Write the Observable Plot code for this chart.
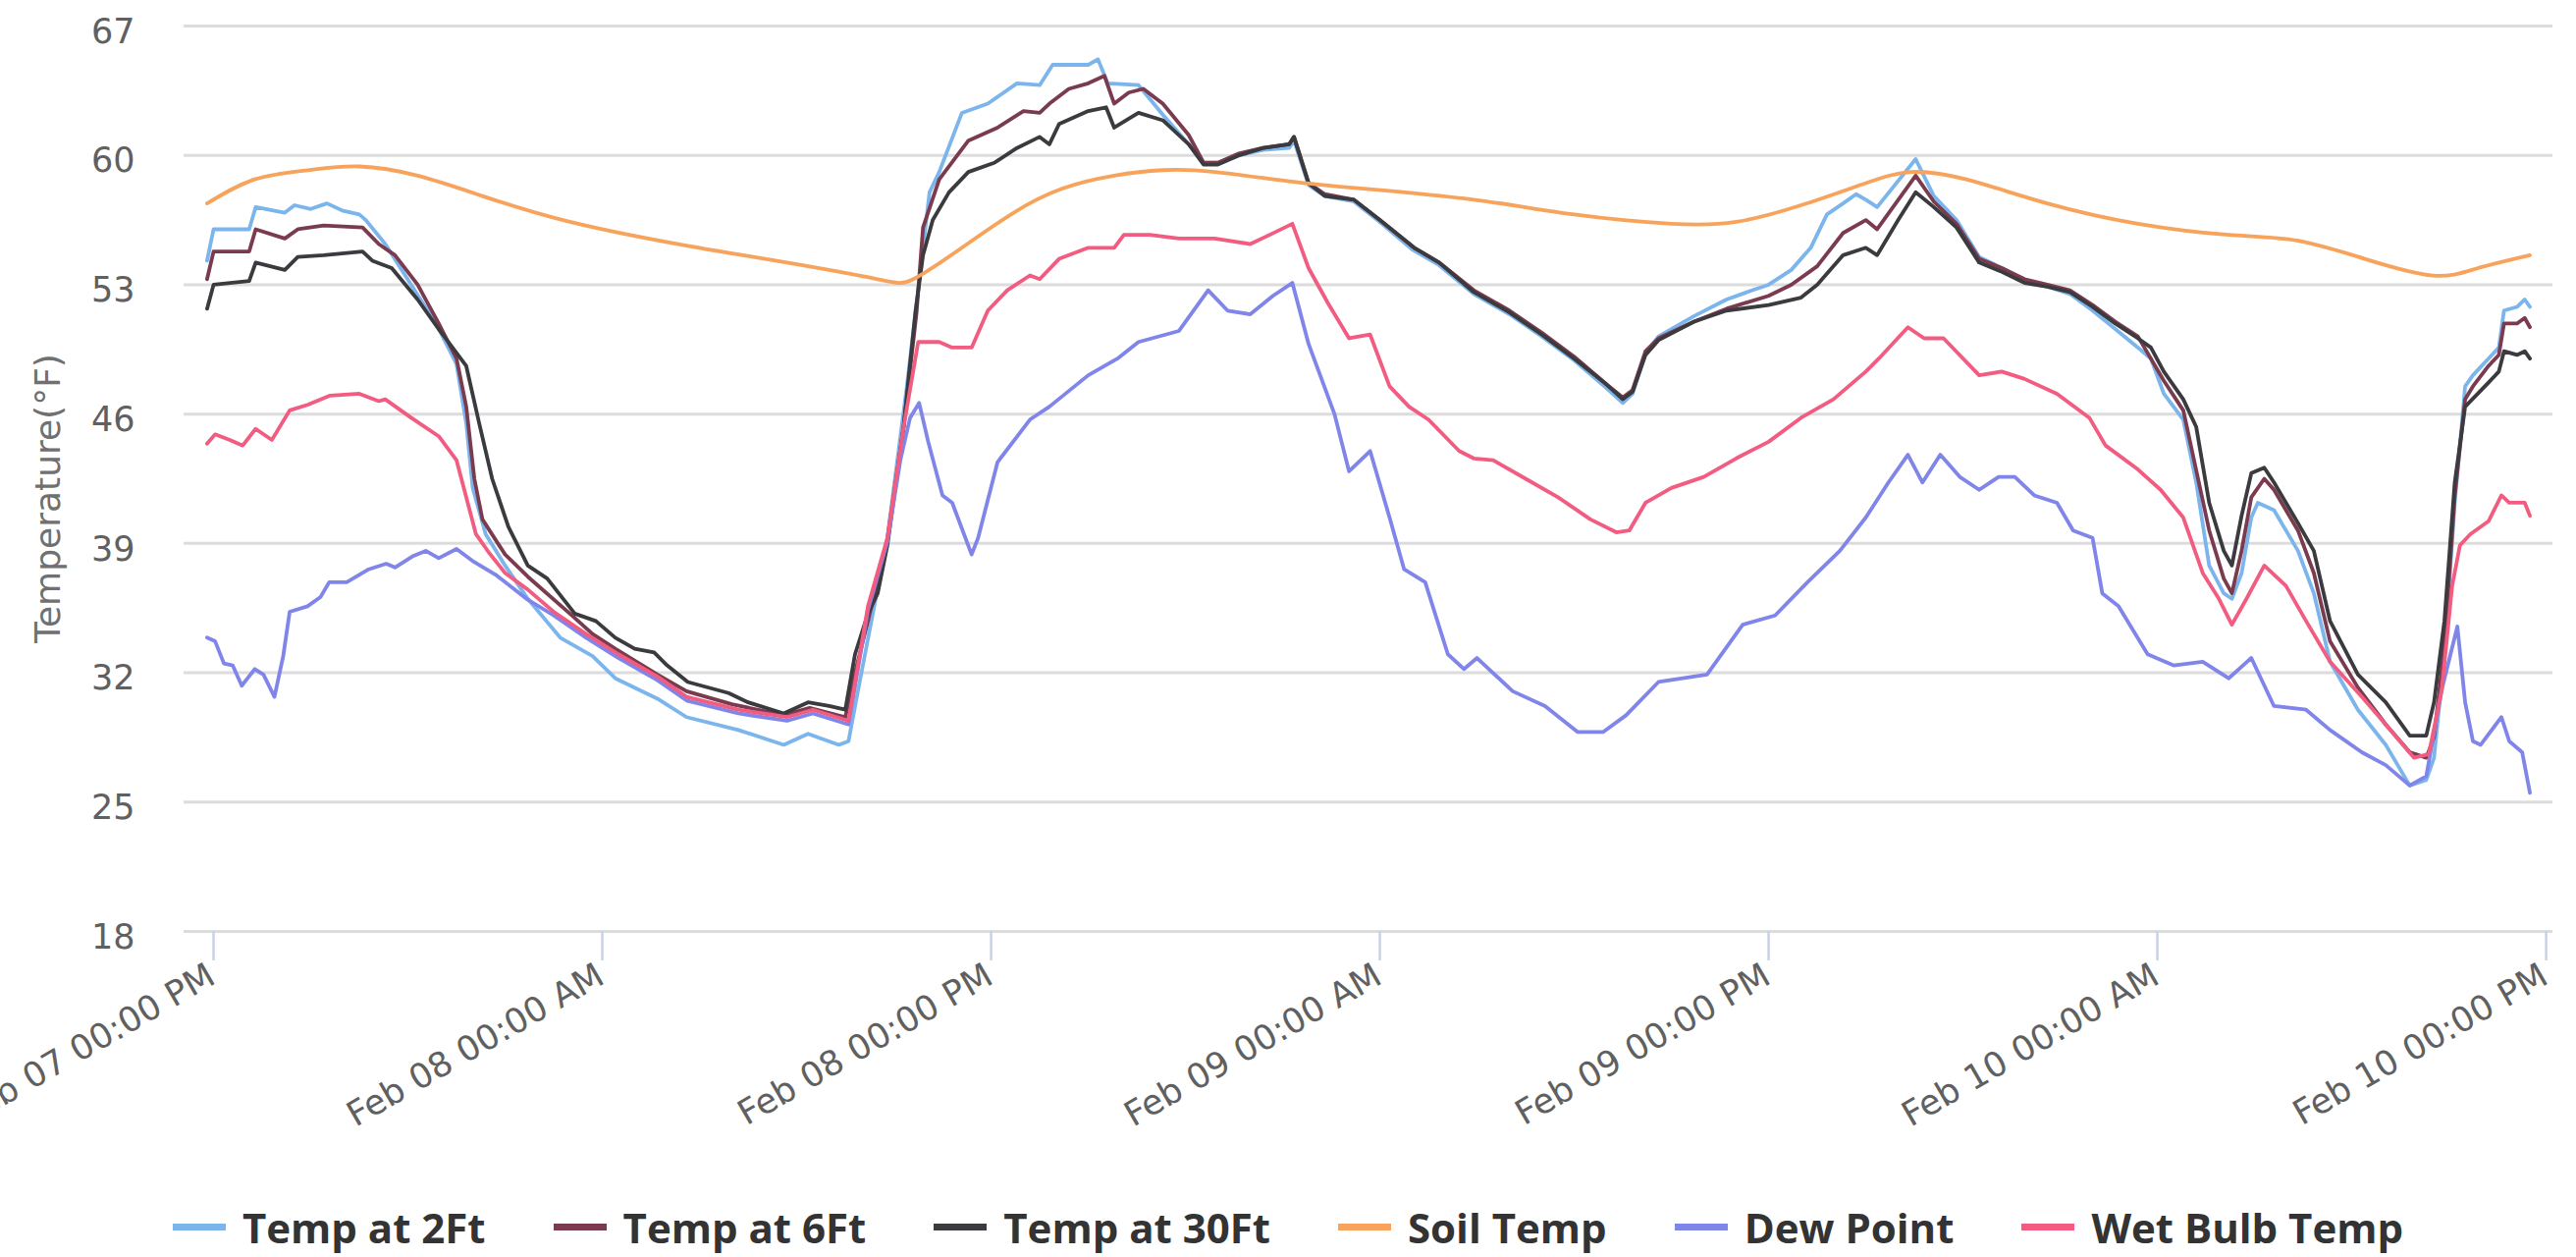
<!DOCTYPE html>
<html><head><meta charset="utf-8">
<script src="https://cdn.jsdelivr.net/npm/d3@7"></script>
<script src="https://cdn.jsdelivr.net/npm/@observablehq/plot@0.6"></script>
<style>
html,body{margin:0;padding:0;background:#fff;}
#chart{width:2624px;height:1190px;}
#legend{width:2624px;height:118px;display:flex;justify-content:center;align-items:center;gap:69px;
  font-family:"Open Sans",sans-serif;font-weight:700;font-size:42px;color:#333;padding-left:0;}
.item{display:flex;align-items:center;}
.sw{display:inline-block;width:54px;height:7px;margin-right:17px;}
</style></head>
<body><div id="chart"></div><div id="legend"></div>
<script>
// ---------- data (hours after Feb 07 12:00 PM, temperature °F) ----------
const seriesNames = ["Temp at 2Ft","Temp at 6Ft","Temp at 30Ft","Soil Temp","Dew Point","Wet Bulb Temp"];
const seriesColors = ["#7cb5ec","#7b3b4e","#3a3a3f","#f7a35c","#8085e9","#f15c80"];

const temp2ft = [[-0.2,54.3],[0.0,56.0],[1.1,56.0],[1.3,57.2],[2.2,56.9],[2.5,57.3],[3.0,57.1],[3.5,57.4],[4.0,57.0],[4.5,56.8],[4.7,56.5],[5.3,55.2],[6.1,53.0],[6.9,50.8],[7.5,48.7],[7.8,45.5],[8.0,42.0],[8.4,39.5],[9.0,37.8],[9.7,36.0],[10.7,33.9],[11.7,32.9],[12.4,31.7],[13.7,30.6],[14.6,29.6],[16.2,28.9],[17.6,28.1],[18.35,28.7],[19.3,28.1],[19.6,28.3],[19.9,31.1],[20.8,39.3],[21.4,47.5],[22.1,58.0],[22.4,59.1],[23.1,62.3],[23.9,62.8],[24.8,63.9],[25.5,63.8],[25.9,64.9],[27.0,64.9],[27.3,65.2],[27.6,63.9],[28.55,63.8],[29.3,62.2],[30.1,60.6],[30.56,59.6],[31.0,59.6],[31.65,60.0],[32.4,60.3],[33.2,60.4],[33.35,60.8],[33.8,58.4],[34.3,57.8],[35.2,57.5],[36.0,56.4],[37.0,54.9],[37.8,54.1],[38.9,52.5],[40.0,51.4],[41.0,50.2],[42.0,48.9],[43.0,47.4],[43.5,46.6],[43.8,47.1],[44.2,49.3],[44.6,50.2],[45.7,51.3],[46.7,52.2],[47.5,52.7],[48.0,53.0],[48.7,53.8],[49.3,55.0],[49.8,56.8],[50.3,57.4],[50.7,57.9],[51.0,57.6],[51.35,57.2],[52.54,59.8],[53.1,57.8],[53.8,56.5],[54.5,54.5],[55.2,53.9],[55.9,53.2],[56.6,52.9],[57.3,52.5],[58.0,51.6],[58.7,50.6],[59.4,49.6],[59.8,49.0],[60.2,47.1],[60.8,45.7],[61.2,42.3],[61.6,37.8],[62.05,36.3],[62.3,36.0],[62.6,37.4],[62.9,40.4],[63.1,41.2],[63.6,40.8],[64.34,38.6],[64.83,36.3],[65.33,32.6],[66.19,30.0],[67.05,28.1],[67.79,25.9],[68.3,26.2],[68.54,27.4],[68.86,33.0],[69.18,41.2],[69.5,47.5],[69.74,48.1],[70.22,49.0],[70.54,49.6],[70.7,51.6],[71.1,51.8],[71.34,52.2],[71.5,51.8]];

const temp6ft = [[-0.2,53.3],[0.0,54.8],[1.1,54.8],[1.3,56.0],[2.2,55.5],[2.6,56.0],[3.4,56.2],[4.6,56.1],[5.1,55.2],[5.6,54.6],[6.3,53.0],[6.95,50.9],[7.5,49.0],[7.8,46.4],[8.05,42.5],[8.3,40.3],[9.0,38.4],[9.7,37.2],[11.0,35.2],[11.7,34.1],[12.4,33.3],[13.7,31.9],[14.6,31.0],[16.0,30.3],[17.6,29.7],[18.4,30.1],[19.5,29.6],[19.8,32.0],[20.2,34.8],[20.8,39.2],[21.3,45.3],[21.7,51.5],[21.9,56.1],[22.4,58.7],[23.3,60.8],[24.2,61.5],[25.0,62.4],[25.5,62.3],[25.8,62.8],[26.4,63.6],[27.0,63.9],[27.5,64.3],[27.8,62.8],[28.25,63.4],[28.7,63.6],[29.3,62.8],[30.1,61.1],[30.56,59.6],[31.0,59.6],[31.65,60.1],[32.4,60.4],[33.2,60.6],[33.35,61.0],[33.8,58.5],[34.3,57.9],[35.2,57.6],[36.0,56.5],[37.06,55.0],[37.83,54.2],[38.9,52.7],[40.0,51.6],[41.0,50.4],[42.0,49.1],[43.0,47.6],[43.5,46.9],[43.8,47.3],[44.2,49.4],[44.6,50.1],[45.7,51.0],[46.7,51.7],[48.0,52.4],[48.7,53.0],[49.5,54.0],[50.3,55.8],[51.0,56.5],[51.35,56.0],[52.54,58.9],[53.1,57.5],[53.8,56.3],[54.5,54.4],[55.2,53.9],[55.9,53.3],[56.6,53.0],[57.3,52.7],[58.0,51.9],[58.7,51.0],[59.4,50.2],[60.2,47.8],[60.8,46.2],[61.6,39.7],[62.05,37.1],[62.3,36.3],[62.6,38.6],[62.9,41.5],[63.3,42.5],[63.6,41.9],[64.34,39.7],[64.83,37.4],[65.33,33.7],[66.19,31.2],[67.05,29.2],[67.79,27.7],[68.3,27.4],[68.54,28.5],[68.86,33.5],[69.18,41.6],[69.5,46.8],[69.74,47.5],[70.22,48.6],[70.54,49.2],[70.7,50.9],[71.1,50.9],[71.34,51.2],[71.5,50.7]];

const temp30ft = [[-0.2,51.7],[0.0,53.0],[1.1,53.2],[1.3,54.2],[2.2,53.8],[2.6,54.5],[3.4,54.6],[4.6,54.8],[4.9,54.3],[5.5,53.9],[6.3,52.2],[6.95,50.6],[7.8,48.6],[8.2,45.5],[8.6,42.5],[9.1,39.9],[9.7,37.8],[10.3,37.1],[11.15,35.2],[11.8,34.8],[12.4,33.9],[13.0,33.3],[13.6,33.1],[14.0,32.4],[14.64,31.5],[15.9,30.9],[16.5,30.4],[17.6,29.8],[18.35,30.4],[19.0,30.2],[19.5,30.0],[19.8,33.0],[20.2,35.2],[20.5,36.3],[20.8,38.9],[21.3,45.3],[21.67,51.6],[21.9,54.6],[22.2,56.5],[22.7,58.0],[23.3,59.1],[24.1,59.6],[24.8,60.4],[25.5,61.0],[25.8,60.6],[26.1,61.7],[27.0,62.4],[27.55,62.6],[27.8,61.5],[28.55,62.3],[29.3,61.9],[30.1,60.6],[30.56,59.5],[31.0,59.5],[31.65,60.0],[32.4,60.4],[33.2,60.6],[33.35,61.0],[33.8,58.5],[34.3,57.8],[35.2,57.6],[36.0,56.5],[37.06,55.0],[37.83,54.2],[38.9,52.6],[40.0,51.5],[41.0,50.3],[42.0,49.0],[43.0,47.6],[43.5,46.8],[43.8,47.2],[44.2,49.2],[44.6,50.0],[45.7,51.0],[46.7,51.6],[48.0,51.9],[49.0,52.3],[49.5,53.0],[50.3,54.6],[51.0,55.0],[51.35,54.6],[52.0,56.5],[52.54,58.0],[53.1,57.2],[53.8,56.1],[54.5,54.2],[55.2,53.7],[55.9,53.1],[56.6,52.9],[57.3,52.6],[58.0,51.8],[58.7,50.9],[59.4,50.1],[59.8,49.6],[60.2,48.3],[60.8,46.8],[61.2,45.3],[61.6,41.2],[62.05,38.6],[62.3,37.8],[62.6,40.5],[62.9,42.8],[63.3,43.1],[63.6,42.3],[64.34,40.1],[64.83,38.6],[65.33,34.8],[66.19,31.9],[67.05,30.4],[67.79,28.6],[68.3,28.6],[68.54,30.4],[68.86,34.8],[69.18,42.3],[69.5,46.4],[70.22,47.7],[70.54,48.3],[70.7,49.4],[71.1,49.2],[71.34,49.4],[71.5,49.0]];

const soilTemp = [[-0.2,57.4],[1.27,58.7],[2.9,59.2],[4.5,59.4],[6.3,58.9],[8.3,57.8],[11.0,56.4],[14.64,55.1],[17.7,54.2],[20.5,53.3],[21.6,53.3],[23.1,55.0],[24.7,56.9],[26.2,58.2],[27.8,58.9],[29.3,59.2],[30.9,59.1],[33.2,58.6],[35.5,58.2],[38.9,57.6],[42.0,56.8],[45.0,56.3],[47.0,56.4],[49.0,57.3],[51.0,58.5],[52.4,59.1],[54.1,58.7],[56.6,57.4],[59.4,56.3],[62.2,55.7],[64.3,55.4],[66.4,54.4],[68.5,53.5],[69.9,53.9],[71.5,54.6]];

const dewPoint = [[-0.2,33.9],[0.05,33.7],[0.32,32.5],[0.59,32.4],[0.87,31.3],[1.27,32.2],[1.54,31.9],[1.88,30.7],[2.15,32.9],[2.35,35.3],[2.9,35.6],[3.3,36.1],[3.57,36.9],[4.11,36.9],[4.79,37.6],[5.33,37.9],[5.6,37.7],[6.14,38.3],[6.55,38.6],[6.95,38.2],[7.5,38.7],[8.04,38.0],[8.71,37.3],[9.66,36.0],[10.5,35.1],[11.5,33.9],[12.5,32.8],[13.7,31.6],[14.6,30.5],[16.2,29.8],[17.7,29.4],[18.5,29.8],[19.6,29.2],[20.2,35.4],[20.8,39.1],[21.2,43.5],[21.5,45.8],[21.78,46.6],[22.06,44.5],[22.5,41.6],[22.8,41.2],[23.4,38.4],[23.6,39.3],[24.2,43.4],[25.2,45.7],[25.8,46.4],[27.0,48.1],[27.9,49.0],[28.55,49.9],[29.8,50.5],[30.7,52.7],[31.3,51.6],[32.0,51.4],[32.7,52.4],[33.3,53.1],[33.8,49.8],[34.6,46.0],[35.05,42.9],[35.7,44.0],[36.3,40.4],[36.75,37.6],[37.4,36.9],[38.1,33.0],[38.6,32.2],[39.0,32.8],[40.1,31.0],[41.1,30.2],[42.1,28.8],[42.9,28.8],[43.6,29.7],[44.6,31.5],[46.1,31.9],[47.2,34.6],[48.2,35.1],[49.2,36.9],[50.2,38.6],[51.0,40.4],[51.7,42.3],[52.3,43.8],[52.75,42.3],[53.3,43.8],[53.9,42.6],[54.5,41.9],[55.1,42.6],[55.6,42.6],[56.2,41.6],[56.9,41.2],[57.4,39.7],[58.0,39.3],[58.3,36.3],[58.8,35.6],[59.7,33.0],[60.5,32.4],[61.4,32.6],[62.2,31.7],[62.9,32.8],[63.6,30.2],[64.59,30.0],[65.33,28.9],[66.31,27.7],[67.05,27.0],[67.79,25.9],[68.3,26.4],[68.78,31.1],[69.26,34.5],[69.5,30.4],[69.74,28.3],[69.98,28.1],[70.62,29.6],[70.86,28.3],[71.26,27.7],[71.5,25.5]];

const wetBulb = [[-0.2,44.4],[0.05,44.9],[0.5,44.6],[0.9,44.3],[1.3,45.2],[1.8,44.6],[2.35,46.2],[2.9,46.5],[3.6,47.0],[4.5,47.1],[5.1,46.7],[5.3,46.8],[6.1,45.8],[6.95,44.8],[7.5,43.5],[7.8,41.5],[8.1,39.5],[8.5,38.5],[9.0,37.4],[9.7,36.5],[10.5,35.3],[11.5,34.1],[12.5,33.0],[13.7,31.8],[14.6,30.7],[16.2,30.0],[17.7,29.6],[18.5,30.0],[19.6,29.4],[20.2,35.6],[20.8,39.3],[21.3,45.3],[21.75,49.9],[22.4,49.9],[22.8,49.6],[23.4,49.6],[23.9,51.6],[24.5,52.7],[25.2,53.5],[25.5,53.3],[26.1,54.4],[27.0,55.0],[27.8,55.0],[28.1,55.7],[28.9,55.7],[29.8,55.5],[30.9,55.5],[32.0,55.2],[32.6,55.7],[33.3,56.3],[33.8,53.9],[34.4,52.0],[35.05,50.1],[35.7,50.3],[36.3,47.5],[36.9,46.4],[37.5,45.7],[38.45,44.0],[38.9,43.6],[39.5,43.5],[40.5,42.5],[41.5,41.5],[42.5,40.3],[43.3,39.6],[43.7,39.7],[44.2,41.2],[45.0,42.0],[46.0,42.6],[47.0,43.6],[48.0,44.5],[49.0,45.8],[50.0,46.8],[51.0,48.3],[51.4,49.0],[52.3,50.7],[52.8,50.1],[53.4,50.1],[54.5,48.1],[55.2,48.3],[55.9,47.9],[56.9,47.1],[57.9,45.8],[58.4,44.3],[59.4,43.0],[60.1,41.9],[60.8,40.4],[61.4,37.4],[61.9,36.0],[62.3,34.6],[62.75,36.0],[63.3,37.8],[63.97,36.7],[64.59,34.8],[65.33,32.6],[66.31,30.7],[67.05,29.2],[67.92,27.4],[68.38,27.6],[68.78,31.1],[69.1,36.7],[69.34,38.9],[69.66,39.5],[70.22,40.2],[70.62,41.6],[70.86,41.2],[71.34,41.2],[71.5,40.5]];

const tickHours = [0,12,24,36,48,60,72];
const tickLabels = ["Feb 07 00:00 PM","Feb 08 00:00 AM","Feb 08 00:00 PM","Feb 09 00:00 AM","Feb 09 00:00 PM","Feb 10 00:00 AM","Feb 10 00:00 PM"];
const yTicks = [18,25,32,39,46,53,60,67];
const yTitle = "Temperature(°F)";

// ---------- build ----------
const base = Date.UTC(2017,1,7,12);
const toDate = h => new Date(base + h*3600e3);
const seriesData = [temp2ft,temp6ft,temp30ft,soilTemp,dewPoint,wetBulb];
const rows = [];
seriesData.forEach((arr,k)=>arr.forEach(([h,v])=>rows.push({series:seriesNames[k],time:toDate(h),value:v})));
const tickDates = tickHours.map(toDate);

const lineMarks = seriesNames.map((name,k)=>Plot.line(rows.filter(r=>r.series===name),{
  x:"time", y:"value", stroke:seriesColors[k], strokeWidth:3.8,
  curve: name==="Soil Temp" ? "natural" : "linear", strokeLinejoin:"round"
}));

const chart = Plot.plot({
  width:2624, height:1190,
  marginLeft:187, marginRight:24, marginTop:26, marginBottom:242,
  style:{background:"#fff", fontFamily:"'DejaVu Sans',sans-serif"},
  x:{type:"utc", domain:[toDate(-0.91), toDate(72.21)], axis:null},
  y:{domain:[18,67], axis:null},
  marks:[
    Plot.ruleY(yTicks,{stroke:"#dcdcdc", strokeWidth:3}),
    Plot.axisX({ticks:tickDates, tickSize:30, tickFormat:()=>"", stroke:"#c9d2e3", strokeWidth:2.5, label:null}),
    ...lineMarks,
    Plot.text(yTicks,{y:d=>d, frameAnchor:"left", dx:-50, dy:6, textAnchor:"end", text:d=>String(d), fontSize:35, fill:"#606060"}),
    Plot.text(tickDates,{x:d=>d, frameAnchor:"bottom", dx:4, dy:52, rotate:-30, textAnchor:"end", text:(d,i)=>tickLabels[i], fontSize:35, fill:"#606060"}),
    Plot.text([yTitle],{frameAnchor:"left", dx:-138, dy:20, rotate:-90, textAnchor:"middle", text:d=>d, fontSize:36, fill:"#707070"})
  ]
});
document.getElementById("chart").appendChild(chart);

// legend
const legend = d3.select("#legend");
seriesNames.forEach((n,k)=>{
  const it = legend.append("div").attr("class","item");
  it.append("span").attr("class","sw").style("background",seriesColors[k]);
  it.append("span").text(n);
});
</script>
</body></html>
